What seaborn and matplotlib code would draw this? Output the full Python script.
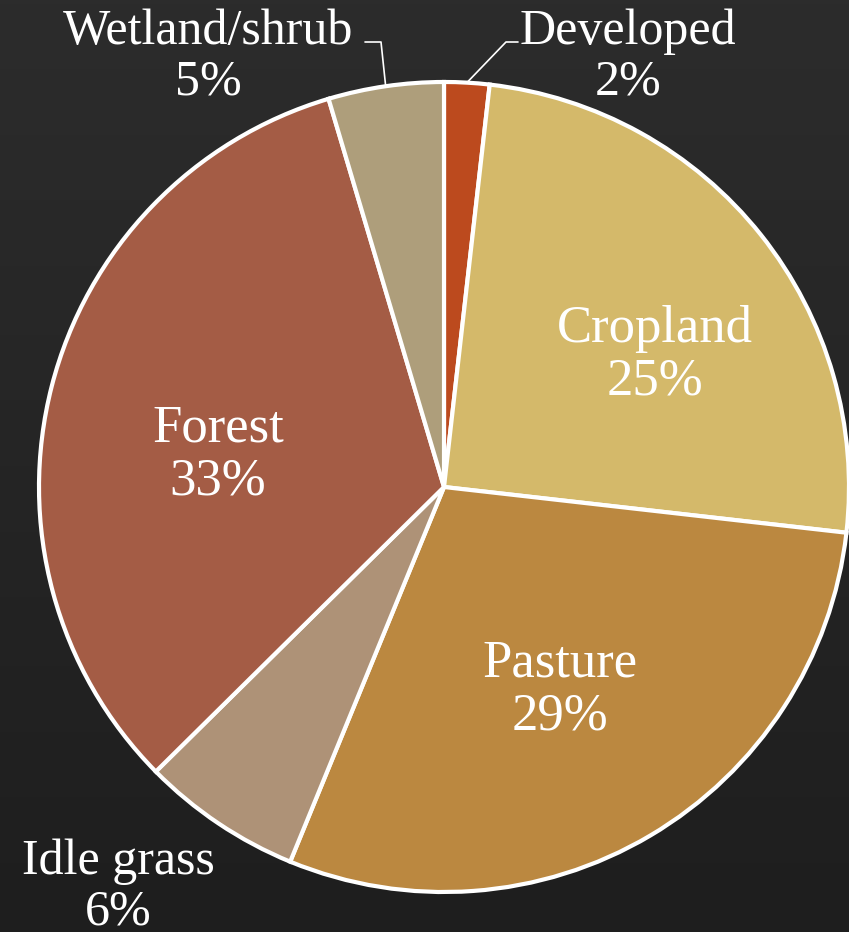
import numpy as np
import matplotlib
matplotlib.use("Agg")
import matplotlib.pyplot as plt
import seaborn as sns

# land use shares (percent), clockwise from 12 o'clock
categories = ["Developed", "Cropland", "Pasture", "Idle grass", "Forest", "Wetland/shrub"]
shares = [1.8, 25.0, 29.4, 6.4, 32.8, 4.6]
colors = ["#BC4A1E", "#D4B96A", "#BB8840", "#AE9277", "#A45C45", "#AE9E7B"]

sns.set_style("dark")
plt.rcParams["font.family"] = ["Liberation Serif", "DejaVu Serif"]

W, H = 849, 932
fig = plt.figure(figsize=(W / 100, H / 100), dpi=100)
ax = fig.add_axes([0, 0, 1, 1])

# dark charcoal backdrop, a touch lighter at the top
grad = np.linspace(0, 1, 256).reshape(-1, 1)
bg = matplotlib.colors.LinearSegmentedColormap.from_list("bg", ["#2c2c2c", "#1e1e1e"])
ax.imshow(grad, cmap=bg, extent=(0, W, 0, H), aspect="auto", zorder=0)

cx, cy, r = 444, H - 487, 405
wedges, _ = ax.pie(shares, colors=colors, startangle=90, counterclock=False,
                   center=(cx, cy), radius=r, frame=True,
                   wedgeprops=dict(edgecolor="white", linewidth=3))
for w in wedges:
    w.set_zorder(2)

labels = [f"{c}\n{s:.0f}%" for c, s in zip(categories, shares)]

# where each label block sits (image pixel coords, centre of the block)
inner = {"Cropland": (655, 355), "Pasture": (560, 690), "Forest": (218, 455)}
outer = {"Developed": (628, 57), "Wetland/shrub": (208, 57), "Idle grass": (118, 887)}

for i, c in enumerate(categories):
    if c in inner:
        x, y = inner[c]
        ax.text(x, H - y, labels[i], ha="center", va="center", fontsize=38,
                color="white", linespacing=1.12, zorder=3)
    else:
        x, y = outer[c]
        ax.text(x, H - y, labels[i], ha="center", va="center", fontsize=36,
                color="white", linespacing=1.1, zorder=3)

# leader lines for the two thin slices at the top
def edge_point(idx):
    start = 90 - 360 * sum(shares[:idx]) / 100
    mid = np.deg2rad(start - 360 * shares[idx] / 200)
    return cx + r * np.cos(mid), cy + r * np.sin(mid)

ex, ey = edge_point(0)
ax.plot([ex, 506, 518], [ey, H - 42, H - 42], color="white", lw=1.2, zorder=3)
ex, ey = edge_point(5)
ax.plot([ex, 381, 365], [ey, H - 42, H - 42], color="white", lw=1.2, zorder=3)

ax.set_xlim(0, W)
ax.set_ylim(0, H)
ax.axis("off")

fig.savefig("out.png", dpi=100)
